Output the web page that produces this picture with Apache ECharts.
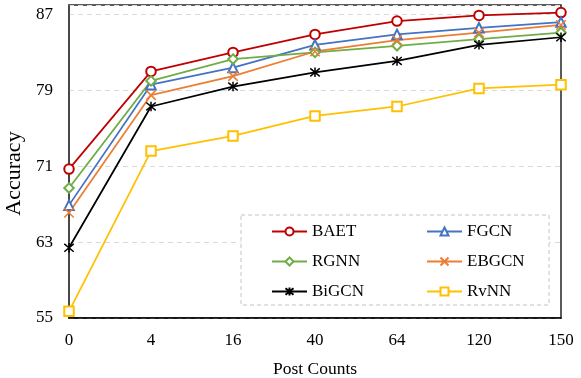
<!DOCTYPE html>
<html>
<head>
<meta charset="utf-8">
<script src="https://cdn.jsdelivr.net/npm/echarts@6/dist/echarts.min.js"></script>
<style>
  html, body { margin: 0; padding: 0; background: #fff; }
  #chart { width: 581px; height: 378px; }
</style>
</head>
<body>
<div id="chart"></div>
<script>
// 数据:估计值
var postCounts = ['0', '4', '16', '40', '64', '120', '150'];
var baet  = [70.7, 81.0, 83.0, 84.9, 86.3, 86.9, 87.2];
var fgcn  = [66.9, 79.6, 81.4, 83.8, 84.9, 85.6, 86.2];
var rgnn  = [68.7, 80.0, 82.3, 83.0, 83.7, 84.4, 85.1];
var ebgcn = [66.1, 78.5, 80.5, 83.1, 84.3, 85.1, 85.9];
var bigcn = [62.4, 77.3, 79.4, 80.9, 82.1, 83.8, 84.6];
var rvnn  = [55.7, 72.6, 74.2, 76.3, 77.3, 79.2, 79.6];
var legendLeftCol = ['BAET', 'RGNN', 'BiGCN'];
var legendRightCol = ['FGCN', 'EBGCN', 'RvNN'];

var FONT = '"Liberation Serif", "Times New Roman", serif';
var X_PATH = 'path://M0,0L10,10M10,0L0,10';
var STAR_PATH = 'path://M0,0L10,10M10,0L0,10M5,-1L5,11';

function line(name, data, color, symbol) {
  return {
    name: name, type: 'line', data: data,
    symbol: symbol, symbolSize: 9.5,
    lineStyle: { color: color, width: 1.75 },
    itemStyle: { color: color, borderColor: color, borderWidth: 1.5 }
  };
}

function legendCol(names, left) {
  return {
    orient: 'vertical', left: left, top: 223,
    padding: 0, itemGap: 13, itemWidth: 35, itemHeight: 10,
    data: names,
    textStyle: { fontFamily: FONT, fontSize: 17, color: '#000' }
  };
}

var chart = echarts.init(document.getElementById('chart'));
chart.setOption({
  animation: false,
  textStyle: { fontFamily: FONT },
  grid: {
    left: 69, right: 20, top: 5, bottom: 60,
    outerBoundsMode: 'none',
    show: true, borderColor: '#262626', borderWidth: 1.5
  },
  graphic: [{
    type: 'rect', z: 1,
    shape: { x: 241, y: 215, width: 308, height: 90 },
    style: { fill: '#fff', stroke: '#c4c4c4', lineWidth: 1, lineDash: [4, 3] }
  }],
  legend: [legendCol(legendLeftCol, 271), legendCol(legendRightCol, 426)],
  xAxis: {
    type: 'category', data: postCounts, boundaryGap: false,
    name: 'Post Counts', nameLocation: 'middle', nameGap: 42,
    nameTextStyle: { fontFamily: FONT, fontSize: 17.5, color: '#000' },
    axisLine: { lineStyle: { color: '#000', width: 1.5 } },
    axisTick: { show: false },
    axisLabel: { fontFamily: FONT, fontSize: 17, color: '#000', margin: 14 }
  },
  yAxis: {
    type: 'value', min: 55, max: 88, interval: 8,
    name: 'Accuracy', nameLocation: 'middle', nameGap: 44,
    nameTextStyle: { fontFamily: FONT, fontSize: 22, color: '#000', padding: [0, 24, 0, 0] },
    axisLine: { show: true, lineStyle: { color: '#404040', width: 1.5 } },
    axisTick: { show: false },
    axisLabel: { fontFamily: FONT, fontSize: 17, color: '#000', margin: 16, showMaxLabel: false },
    splitLine: { lineStyle: { color: '#d9d9d9', type: [5, 4], width: 1 } }
  },
  series: [
    line('BAET', baet, '#C00000', 'emptyCircle'),
    line('FGCN', fgcn, '#4472C4', 'emptyTriangle'),
    line('RGNN', rgnn, '#70AD47', 'emptyDiamond'),
    line('EBGCN', ebgcn, '#ED7D31', X_PATH),
    line('BiGCN', bigcn, '#000000', STAR_PATH),
    line('RvNN', rvnn, '#FFC000', 'emptyRect')
  ]
});
</script>
</body>
</html>
